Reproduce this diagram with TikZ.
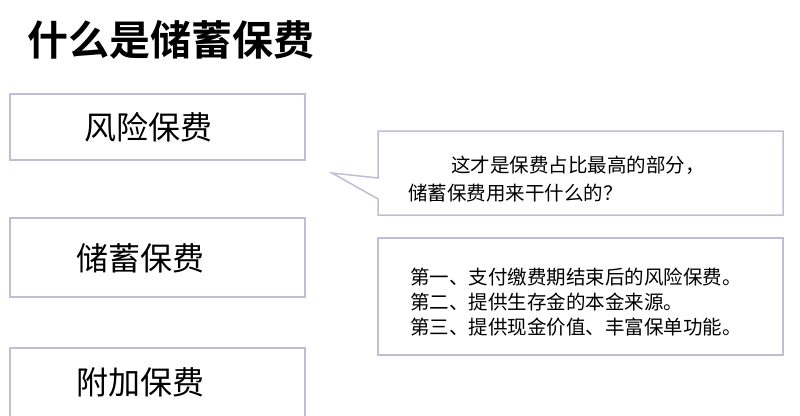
\documentclass[tikz,border=0pt]{standalone}
\usepackage{fontspec}
\newfontfamily\cjk{Noto Sans CJK SC}
\newfontfamily\cjkb{Noto Sans CJK SC Bold}
\definecolor{bd}{HTML}{C4BCD6}
\begin{document}
\begin{tikzpicture}[x=1pt,y=-1pt,
  box/.style={draw=bd,line width=1.5pt},
  big/.style={font=\cjk\fontsize{32}{38}\selectfont},
  small/.style={font=\cjk\fontsize{19.5}{25}\selectfont,align=left,inner sep=0pt}]
\useasboundingbox (0,0) rectangle (800,415);
\fill[white] (0,0) rectangle (800,415);
\node[anchor=west,font=\cjkb\fontsize{41}{48}\selectfont,inner sep=0pt] (title) at (27,40) {什么是储蓄保费};
\draw[box] (10,94) rectangle (305,160);
\node[big] (a) at (148,127) {风险保费};
\draw[box] (10,218) rectangle (305,297);
\node[big] (b) at (140,258) {储蓄保费};
\draw[box] (10,348) rectangle (305,418);
\node[big] (c) at (140,382) {附加保费};
\draw[box,line join=miter] (378,131) -- (783,131) -- (783,215) -- (378,215) -- (378,199) -- (332,173) -- (378,178) -- cycle;
\node[small,anchor=west,font=\cjk\fontsize{19.5}{28}\selectfont] (q) at (408,179) {\hspace{2.2em}这才是保费占比最高的部分，\\储蓄保费用来干什么的？};
\draw[box] (378,238) rectangle (783,355);
\node[small,anchor=west] (l) at (410,302) {第一、支付缴费期结束后的风险保费。\\第二、提供生存金的本金来源。\\第三、提供现金价值、丰富保单功能。};
\end{tikzpicture}
\end{document}
